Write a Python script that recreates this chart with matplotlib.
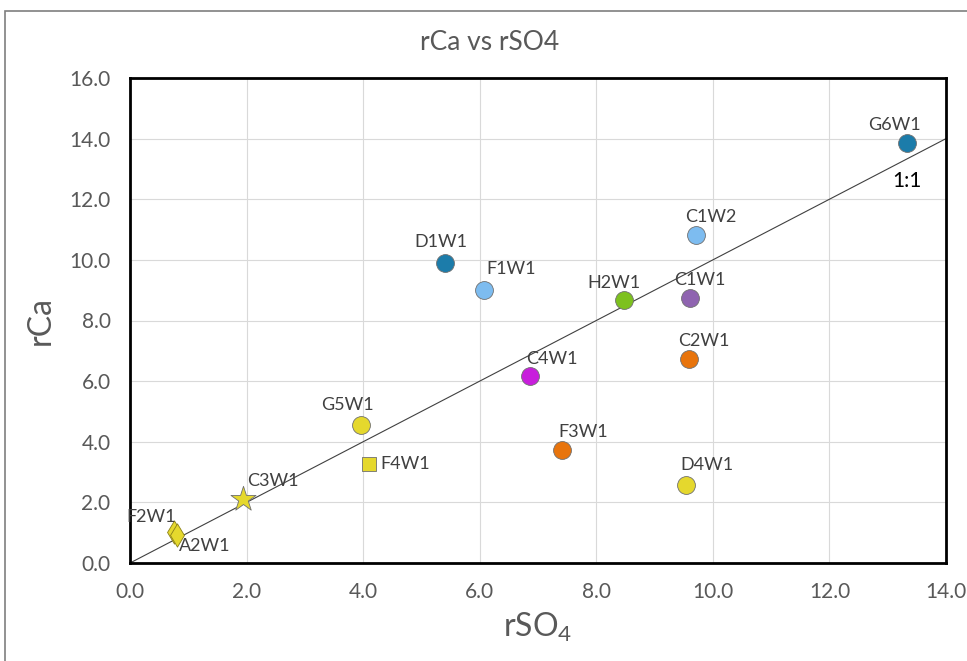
import matplotlib
matplotlib.use("Agg")
import matplotlib.pyplot as plt
from matplotlib.patches import Rectangle

plt.rcParams['font.family'] = ['Lato', 'DejaVu Sans']
plt.rcParams['mathtext.fontset'] = 'custom'
plt.rcParams['mathtext.rm'] = 'Lato'
plt.rcParams['mathtext.default'] = 'rm'

names = ["G6W1", "C1W2", "D1W1", "F1W1", "H2W1", "C1W1", "C2W1", "C4W1",
         "G5W1", "F4W1", "F3W1", "D4W1", "C3W1", "F2W1", "A2W1"]
rSO4 = [13.33, 9.71, 5.40, 6.07, 8.47, 9.61, 9.59, 6.86,
        3.96, 4.10, 7.41, 9.54, 1.94, 0.75, 0.80]
rCa = [13.86, 10.82, 9.90, 9.01, 8.68, 8.75, 6.73, 6.17,
       4.55, 3.27, 3.73, 2.57, 2.11, 1.02, 0.92]
colors = ["#1c7caa", "#7dbcf0", "#1c7caa", "#7dbcf0", "#7dc11e", "#8f64b0",
          "#e8740c", "#c81edc", "#e5d82d", "#e5d82d", "#e8740c", "#e5d82d",
          "#e5d82d", "#e5d82d", "#e5d82d"]
markers = ["o", "o", "o", "o", "o", "o", "o", "o",
           "o", "s", "o", "o", "*", "d", "d"]
sizes = [165, 165, 165, 165, 165, 165, 165, 165, 165, 115, 165, 165, 360, 140, 140]
label_offsets = [(-13, 18), (15, 18), (-4, 21), (27, 21), (-10, 17), (10, 18),
                 (15, 18), (22, 17), (-13, 20), (36, 0), (21, 18), (21, 20),
                 (30, 18), (-23, 15), (28, -11)]

fig = plt.figure(figsize=(9.67, 6.61), dpi=100)
fig.patches.append(Rectangle((5 / 967, -0.1), 1.2, (661 - 11) / 661 + 0.1,
                             transform=fig.transFigure, fill=False,
                             edgecolor="#7f7f7f", linewidth=1.2))
ax = fig.add_axes([130 / 967, (661 - 563) / 661, 816 / 967, 485 / 661])

ax.plot([0, 14], [0, 14], color="#404040", linewidth=0.8, zorder=2)
ax.text(13.33, 12.6, "1:1", fontsize=15, color="black", ha="center", va="center")

for i in range(len(names)):
    ec = "#8a7f1a" if markers[i] == "d" else "#6f6f6f"
    ax.scatter(rSO4[i], rCa[i], s=sizes[i], marker=markers[i], c=colors[i],
               edgecolors=ec, linewidths=0.6, zorder=3)
    ax.annotate(names[i], (rSO4[i], rCa[i]), xytext=label_offsets[i],
                textcoords="offset pixels", ha="center", va="center",
                fontsize=13, color="#404040", zorder=4)

ax.set_xlim(0, 14)
ax.set_ylim(0, 16)
ax.set_xticks(range(0, 15, 2))
ax.set_yticks(range(0, 17, 2))
ax.set_xticklabels([f"{v:.1f}" for v in range(0, 15, 2)])
ax.set_yticklabels([f"{v:.1f}" for v in range(0, 17, 2)])
ax.tick_params(length=0, labelsize=15, labelcolor="#595959", pad=14)
ax.grid(True, color="#d9d9d9", linewidth=0.8, zorder=0)
ax.set_axisbelow(True)
for sp in ax.spines.values():
    sp.set_linewidth(2)
    sp.set_color("black")

ax.set_xlabel("rSO$_4$", fontsize=23, color="#595959", labelpad=6)
ax.set_ylabel("rCa", fontsize=23, color="#595959", labelpad=10)
fig.text(490 / 967, 1 - 42 / 661, "rCa vs rSO4", fontsize=19, color="#595959",
         ha="center", va="center")

fig.savefig("out.png", dpi=100)
